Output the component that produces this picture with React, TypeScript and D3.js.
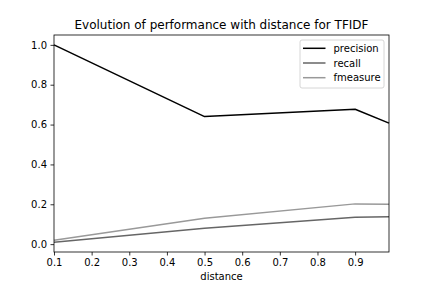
import React, { useEffect, useRef } from "react";
import * as d3 from "d3";

const distances = [0.1, 0.5, 0.9, 0.99];
const precision = [1.0, 0.64, 0.677, 0.607];
const recall = [0.01, 0.08, 0.135, 0.137];
const fmeasure = [0.02, 0.13, 0.202, 0.2];
const seriesNames = ["precision", "recall", "fmeasure"];
const seriesColors = ["#000000", "#666666", "#999999"];
const xTicks = [0.1, 0.2, 0.3, 0.4, 0.5, 0.6, 0.7, 0.8, 0.9];
const yTicks = [0.0, 0.2, 0.4, 0.6, 0.8, 1.0];

function Chart() {
  const ref = useRef<SVGSVGElement>(null);

  useEffect(() => {
    const svg = d3.select(ref.current);
    svg.selectAll("*").remove();
    const margin = { top: 35, right: 43, bottom: 36, left: 54 };
    const w = 432 - margin.left - margin.right;
    const h = 288 - margin.top - margin.bottom;
    const font = "DejaVu Sans, sans-serif";

    const x = d3.scaleLinear().domain([0.1, 0.99]).range([0, w]);
    const y = d3.scaleLinear().domain([-0.0395, 1.0495]).range([h, 0]);

    const g = svg.append("g").attr("transform", `translate(${margin.left}, ${margin.top})`);

    const all = [precision, recall, fmeasure];
    const line = d3
      .line<number>()
      .x((d, i) => x(distances[i]))
      .y((d) => y(d));

    all.forEach((vals, k) => {
      g.append("path")
        .datum(vals)
        .attr("fill", "none")
        .attr("stroke", seriesColors[k])
        .attr("stroke-width", 1.5)
        .attr("stroke-linejoin", "round")
        .attr("d", line);
    });

    const xAxis = g
      .append("g")
      .attr("transform", `translate(0, ${h})`)
      .call(d3.axisBottom(x).tickValues(xTicks).tickFormat(d3.format(".1f")).tickSizeOuter(0).tickSize(3.5).tickPadding(3.5));
    const yAxis = g
      .append("g")
      .call(d3.axisLeft(y).tickValues(yTicks).tickFormat(d3.format(".1f")).tickSizeOuter(0).tickSize(3.5).tickPadding(3.5));
    [xAxis, yAxis].forEach((a) => {
      a.select(".domain").remove();
      a.selectAll("text").attr("font-family", font).attr("font-size", 10).attr("fill", "#000");
      a.selectAll("line").attr("stroke", "#000").attr("stroke-width", 0.8);
    });

    g.append("rect")
      .attr("width", w)
      .attr("height", h)
      .attr("fill", "none")
      .attr("stroke", "#000")
      .attr("stroke-width", 0.8);

    g.append("text")
      .attr("x", w / 2)
      .attr("y", -6)
      .attr("text-anchor", "middle")
      .attr("font-family", font)
      .attr("font-size", 12)
      .text("Evolution of performance with distance for TFIDF");

    g.append("text")
      .attr("x", w / 2)
      .attr("y", h + 28)
      .attr("text-anchor", "middle")
      .attr("font-family", font)
      .attr("font-size", 10)
      .text("distance");

    // legend
    const lg = g.append("g").attr("transform", `translate(${w - 89}, 5)`);
    lg.append("rect")
      .attr("width", 84)
      .attr("height", 48)
      .attr("rx", 2)
      .attr("fill", "#fff")
      .attr("fill-opacity", 0.8)
      .attr("stroke", "#ccc")
      .attr("stroke-width", 0.8);
    seriesNames.forEach((name, k) => {
      const yy = 8.3 + k * 14.7;
      lg.append("line")
        .attr("x1", 3)
        .attr("x2", 25.5)
        .attr("y1", yy)
        .attr("y2", yy)
        .attr("stroke", seriesColors[k])
        .attr("stroke-width", 1.5);
      lg.append("text")
        .attr("x", 33.5)
        .attr("y", yy + 3.5)
        .attr("font-family", font)
        .attr("font-size", 10)
        .text(name);
    });
  }, []);

  return (
    <svg
      ref={ref}
      width={432}
      height={288}
      style={{ position: "absolute", left: 0, top: 0, display: "block" }}
    />
  );
}

export default function App() {
  return <Chart />;
}
